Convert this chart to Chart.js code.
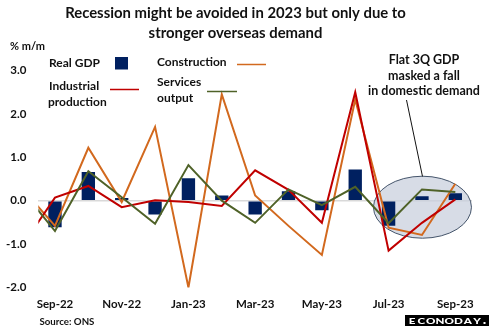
<!DOCTYPE html>
<html><head><meta charset="utf-8">
<script src="https://cdn.jsdelivr.net/npm/chart.js@4/dist/chart.umd.min.js"></script>
<style>html,body{margin:0;padding:0;background:#fff;}#wrap{width:489px;height:326px;position:relative;}</style>
</head><body><div id="wrap"><canvas id="c" width="489" height="326"></canvas></div>
<script>
const months = ["Aug-22","Sep-22","Oct-22","Nov-22","Dec-22","Jan-23","Feb-23","Mar-23","Apr-23","May-23","Jun-23","Jul-23","Aug-23","Sep-23"];
const shownTicks = ["Sep-22","Nov-22","Jan-23","Mar-23","May-23","Jul-23","Sep-23"];
const realGDP      = [null,-0.61, 0.66, 0.06,-0.32, 0.52, 0.12,-0.32, 0.22,-0.22, 0.72,-0.58, 0.10, 0.17];
const construction = [0.30,-0.58, 1.22,-0.03, 1.70,-2.00, 2.45, 0.12,-0.58,-1.25, 2.33,-0.62,-0.79, 0.39];
const industrial   = [-1.05, 0.07, 0.34,-0.15, 0.01,-0.03,-0.12, 0.70, 0.25,-0.51, 2.50,-1.15,-0.51, 0.03];
const services     = [0.25,-0.70, 0.68, 0.08,-0.53, 0.82, 0.00,-0.51, 0.26,-0.10, 0.32,-0.52, 0.26, 0.20];
const titleLines = ["Recession might be avoided in 2023 but only due to","stronger overseas demand"];
const annotationLines = ["Flat 3Q GDP","masked a fall","in domestic demand"];

const NAVY="#002060", ORANGE="#d2691e", RED="#c00000", GREEN="#4f6228";
const FAM = "Lato";

function fitSize(ctx, text, weight, target){
  ctx.font = weight+" 20px "+FAM;
  return 20*target/ctx.measureText(text).width;
}

const deco = {
  id:'deco',
  beforeDatasetsDraw(chart){
    const ctx = chart.ctx, x = chart.scales.x, y = chart.scales.y;
    const cx = (x.getPixelForValue(11)+x.getPixelForValue(13))/2 + 0.5;
    const cy = y.getPixelForValue(-0.15);
    ctx.save();
    ctx.beginPath();
    ctx.ellipse(cx, cy, 49, 31, 0, 0, Math.PI*2);
    ctx.fillStyle = "rgba(200,207,221,0.72)";
    ctx.fill();
    ctx.lineWidth = 1;
    ctx.strokeStyle = "#44546a";
    ctx.stroke();
    ctx.restore();
  },
  afterDraw(chart){
    const ctx = chart.ctx;
    ctx.save();
    ctx.fillStyle = "#111";
    ctx.textBaseline = "middle";
    ctx.textAlign = "center";
    let ts = fitSize(ctx, titleLines[0], "bold", 341);
    ctx.font = "bold "+ts+"px "+FAM;
    ctx.fillText(titleLines[0], 235.5, 13.5);
    ctx.fillText(titleLines[1], 235.5, 33.5);
    ctx.textAlign = "left";
    ctx.font = "bold 11px "+FAM;
    ctx.fillText("% m/m", 10, 46);
    let ls = fitSize(ctx, "Real GDP", "bold", 51);
    ctx.font = "bold "+ls+"px "+FAM;
    ctx.fillText("Real GDP", 49, 63);
    ctx.fillText("Construction", 157, 62);
    ctx.fillText("Industrial", 49, 86);
    ctx.fillText("production", 48, 102);
    ctx.fillText("Services", 157, 82);
    ctx.fillText("output", 157, 98);
    ctx.fillStyle = NAVY;
    ctx.fillRect(115, 57, 13, 12.5);
    ctx.lineWidth = 1.5;
    const seg=(c,x1,x2,yy)=>{ctx.strokeStyle=c;ctx.beginPath();ctx.moveTo(x1,yy);ctx.lineTo(x2,yy);ctx.stroke();};
    seg(ORANGE,237,266,64.5);
    seg(RED,110,139,89.5);
    seg(GREEN,207,237,91.5);
    ctx.fillStyle = "#111";
    ctx.textAlign = "center";
    let as = fitSize(ctx, annotationLines[2], "bold", 112);
    ctx.font = "bold "+as+"px "+FAM;
    ctx.fillText(annotationLines[0], 424, 60);
    ctx.fillText(annotationLines[1], 424, 75.5);
    ctx.fillText(annotationLines[2], 424, 91);
    ctx.strokeStyle = "#111";
    ctx.lineWidth = 1;
    ctx.beginPath(); ctx.moveTo(406.5,100); ctx.lineTo(422.5,176.5); ctx.stroke();
    ctx.textAlign = "left";
    let ss = fitSize(ctx, "Source: ONS", "bold", 55);
    ctx.font = "bold "+ss+"px "+FAM;
    ctx.fillText("Source: ONS", 39.5, 321.5);
    // logo
    ctx.fillStyle = "#000";
    ctx.fillRect(405, 315, 84, 11);
    ctx.fillStyle = "#fff";
    ctx.font = "900 8px "+FAM;
    ctx.textAlign = "center";
    const word = "ECONODAY";
    for (let i=0;i<word.length;i++){
      const cxl = 412 + i*9.3;
      ctx.save(); ctx.translate(cxl, 321); ctx.scale(1.45,1); ctx.fillText(word[i], 0, 0); ctx.restore();
    }
    ctx.fillRect(483.5, 322, 2, 2);
    ctx.restore();
  }
};

new Chart(document.getElementById('c'), {
  data: {
    labels: months,
    datasets: [
      {type:'line', label:'Industrial production', data: industrial, borderColor: RED, borderWidth: 2, pointRadius:0, tension:0, order:1},
      {type:'line', label:'Construction', data: construction, borderColor: ORANGE, borderWidth: 2, pointRadius:0, tension:0, order:2},
      {type:'line', label:'Services output', data: services, borderColor: GREEN, borderWidth: 2, pointRadius:0, tension:0, order:0},
      {type:'bar', label:'Real GDP', data: realGDP, backgroundColor: NAVY, categoryPercentage: 1, barPercentage: 0.4, order:3}
    ]
  },
  options: {
    responsive:false, animation:false, devicePixelRatio:1,
    layout:{padding:{left:0, right:17, top:70.5, bottom:0}},
    plugins:{legend:{display:false}, tooltip:{enabled:false}},
    scales:{
      x:{ type:'category', min:'Sep-22', offset:true,
          grid:{display:false, drawTicks:false}, border:{display:false},
          afterFit(s){ s.height = 326-287.5; },
          ticks:{ autoSkip:false, maxRotation:0, padding:10, color:'#111', font:{family:FAM, weight:'bold', size:11.5},
                  callback(v){ const l=this.getLabelForValue(v); return shownTicks.includes(l)?l:''; } } },
      y:{ min:-2, max:3,
          grid:{ drawTicks:false, color:(c)=> c.tick && c.tick.value===0 ? '#d9d9d9' : 'rgba(0,0,0,0)', lineWidth:1.5 },
          border:{display:false},
          afterFit(s){ s.width = 38.3; },
          ticks:{ stepSize:1, padding:12, color:'#111', font:{family:FAM, weight:'bold', size:11.5},
                  callback(v){ return v.toFixed(1); } } }
    }
  },
  plugins:[deco]
});
</script></body></html>
